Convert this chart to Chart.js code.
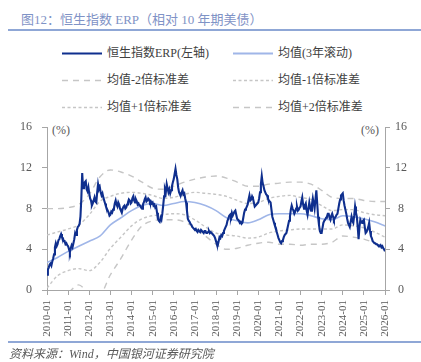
<!DOCTYPE html>
<html>
<head>
<meta charset="utf-8">
<script src="https://cdn.jsdelivr.net/npm/chart.js@4.4.1/dist/chart.umd.min.js"></script>
<style>
  body { margin: 0; width: 421px; height: 362px; background: #fff; position: relative; overflow: hidden;
         font-family: "Liberation Serif", "Noto Sans CJK SC", serif; }
  .title { position: absolute; left: 21px; top: 9px; font-size: 13px; color: #7f93c6; white-space: nowrap; }
  .rule { position: absolute; left: 8px; right: 0; height: 2px; background: #8fa7d6; }
  .item { position: absolute; height: 16px; line-height: 16px; font-size: 12px; color: #404040; white-space: nowrap; }
  .item svg { position: absolute; left: 0; top: 7px; }
  .item span { position: absolute; left: 45px; top: 0; }
  .unit { position: absolute; font-size: 12px; color: #595959; }
  .source { position: absolute; left: 9px; top: 344px; font-size: 12px; font-style: italic; color: #595959; white-space: nowrap; }
  #wrap { position: absolute; left: 0; top: 110px; width: 421px; height: 232px; }
</style>
</head>
<body>
<div class="title">图12：恒生指数 ERP（相对 10 年期美债）</div>
<div class="rule" style="top:29px"></div>
<div id="legend"></div>
<div class="unit" style="left:52px;top:123px">(%)</div>
<div class="unit" style="left:361px;top:123px">(%)</div>
<div id="wrap"><canvas id="erpChart" width="421" height="232"></canvas></div>
<div class="rule" style="top:341px"></div>
<div class="source">资料来源：Wind，中国银河证券研究院</div>

<script>
// x axis tick labels, one per year
const tickLabels = ['2010-01', '2011-01', '2012-01', '2013-01', '2014-01', '2015-01', '2016-01', '2017-01',
  '2018-01', '2019-01', '2020-01', '2021-01', '2022-01', '2023-01', '2024-01', '2025-01', '2026-01'];

// HSI ERP, twice a month from 2010-01 to 2026-01 (%)
const erpValues = [
  1.5, 2.0, 2.2, 2.5, 2.6, 2.4, 2.8, 3.1, 3.5, 4.2, 4.6, 4.3, 4.5, 4.9, 5.0, 5.3, 5.5, 5.2, 5.1, 4.8, 4.8, 4.5, 4.6, 4.4,           // 2010
  4.3, 4.0, 3.7, 4.1, 4.4, 4.2, 4.6, 5.0, 5.6, 5.4, 5.9, 6.2, 6.3, 6.5, 7.2, 9.0, 11.5, 10.0, 10.2, 10.6, 10.7, 9.9, 9.7, 10.1,    // 2011
  9.5, 9.0, 8.8, 8.3, 8.5, 8.8, 9.1, 8.7, 8.6, 9.6, 10.4, 9.9, 10.1, 9.6, 9.3, 9.5, 9.1, 8.8, 8.5, 8.2, 8.0, 7.8, 7.6, 7.3,        // 2012
  7.4, 7.7, 7.6, 7.9, 8.0, 8.5, 8.8, 8.4, 8.2, 8.6, 8.4, 8.0, 7.8, 7.6, 8.0, 8.2, 8.3, 8.0, 8.1, 8.4, 8.6, 8.9, 8.8, 8.5,          // 2013
  8.6, 9.0, 9.2, 8.8, 8.6, 8.9, 8.7, 8.4, 8.5, 8.3, 8.3, 8.1, 8.0, 8.4, 8.6, 8.9, 9.1, 8.7, 8.8, 9.0, 8.9, 8.6, 8.7, 8.5,          // 2014
  8.6, 8.3, 8.4, 8.1, 8.2, 7.6, 7.0, 6.8, 6.7, 7.1, 6.9, 7.5, 8.3, 9.2, 9.9, 9.6, 10.4, 10.0, 9.6, 9.9, 9.5, 9.8, 10.2, 10.6,      // 2015
  10.9, 11.4, 11.9, 11.3, 10.9, 10.1, 9.6, 9.4, 9.3, 9.6, 9.8, 9.4, 9.5, 9.0, 8.6, 7.8, 7.0, 6.8, 6.7, 6.5, 6.4, 6.2, 6.1, 6.0,   // 2016
  5.9, 6.0, 5.8, 5.7, 5.9, 5.8, 5.7, 5.9, 5.9, 5.7, 5.6, 5.8, 5.8, 5.6, 5.6, 5.7, 5.8, 5.6, 5.7, 5.6, 5.5, 5.4, 5.3, 5.1,          // 2017
  4.8, 4.5, 4.4, 4.8, 5.2, 5.1, 5.4, 5.3, 5.6, 5.8, 6.0, 6.2, 6.4, 6.8, 7.0, 7.3, 7.4, 7.2, 7.6, 7.3, 7.5, 7.7, 7.8, 7.4,          // 2018
  7.0, 6.9, 6.8, 6.6, 6.7, 6.5, 6.6, 7.1, 7.6, 7.9, 8.0, 8.2, 8.4, 8.9, 9.3, 8.8, 8.9, 9.2, 9.0, 8.6, 8.2, 8.3, 8.4, 8.5,          // 2019
  8.6, 9.0, 9.6, 10.4, 11.2, 10.5, 10.2, 9.8, 9.6, 9.4, 9.3, 9.0, 8.8, 8.7, 8.6, 7.9, 7.2, 6.9, 6.6, 6.3, 6.1, 5.7, 5.4, 5.1,      // 2020
  4.9, 4.7, 4.6, 4.8, 4.9, 5.2, 5.4, 5.5, 5.6, 6.0, 6.4, 6.8, 7.2, 7.9, 8.3, 8.0, 7.8, 7.5, 7.7, 8.0, 8.2, 7.8, 7.9, 8.1,          // 2021
  8.2, 8.7, 9.1, 8.4, 8.0, 8.3, 8.5, 7.8, 7.4, 8.0, 8.6, 8.1, 7.8, 8.4, 9.0, 8.5, 8.0, 8.9, 9.8, 8.5, 7.2, 6.4, 5.8, 5.6,          // 2022
  5.6, 6.1, 6.6, 6.8, 6.9, 7.1, 7.2, 7.5, 7.5, 7.1, 6.9, 7.3, 7.5, 7.2, 6.9, 7.1, 7.2, 7.4, 7.5, 8.0, 8.5, 8.9, 9.3, 9.4,          // 2023
  9.5, 8.8, 8.3, 7.9, 7.5, 7.0, 6.6, 6.4, 6.2, 6.7, 7.2, 6.8, 6.6, 7.3, 8.2, 7.6, 7.2, 6.2, 5.0, 6.2, 6.9, 6.7, 6.6, 6.8,          // 2024
  6.9, 6.2, 5.6, 5.7, 5.9, 6.2, 6.6, 5.8, 5.3, 5.1, 4.8, 4.7, 4.6, 4.6, 4.5, 4.5, 4.4, 4.4, 4.3, 4.4, 4.2, 4.3, 4.1, 4.0,          // 2025
  3.8                                                                                                                          // 2026
];

// 3-year rolling mean and bands, every half year from 2010-01 to 2026-01
const meanValues = [2.7, 3.2, 3.8, 4.3, 4.8, 5.3, 6.4, 7.1, 7.8, 8.3, 8.5, 8.3, 8.5, 8.7, 8.6, 8.3, 7.8,
  7.1, 6.8, 6.6, 6.9, 7.4, 7.5, 7.5, 7.5, 7.3, 7.0, 6.9, 7.3, 7.2, 7.0, 6.7, 6.3];
const plus2Values = [8.0, 8.0, 8.1, 8.4, 9.4, 11.1, 11.8, 11.6, 11.2, 10.6, 10.0, 9.9, 10.2, 10.6, 10.9, 11.1, 11.2,
  11.0, 10.6, 10.2, 10.2, 10.4, 10.5, 10.6, 10.6, 10.4, 9.8, 9.1, 9.0, 9.0, 8.8, 8.7, 8.7];
const plus1Values = [5.4, 5.7, 6.0, 6.4, 7.4, 8.7, 9.2, 9.5, 9.6, 9.5, 9.3, 9.0, 9.1, 9.4, 9.6, 9.5, 9.4,
  9.2, 8.8, 8.5, 8.6, 9.0, 9.2, 9.3, 9.1, 8.9, 8.3, 7.8, 7.9, 7.9, 7.6, 7.4, 7.3];
const minus1Values = [0.2, 1.4, 1.9, 2.1, 1.9, 2.7, 4.1, 5.2, 6.3, 7.0, 7.3, 7.4, 7.5, 7.4, 6.9, 6.2, 5.6,
  5.4, 5.3, 5.1, 5.2, 5.6, 5.8, 5.9, 6.0, 6.0, 6.0, 6.0, 6.4, 6.3, 6.1, 5.7, 5.2];
const minus2Values = [-2.6, -1.2, -0.3, 0.5, -0.3, -0.4, 1.5, 3.1, 4.9, 6.3, 6.8, 6.9, 6.9, 6.7, 6.1, 5.3, 4.5,
  4.0, 4.1, 4.4, 4.6, 4.7, 4.5, 4.5, 4.4, 4.5, 4.5, 4.7, 5.3, 5.2, 5.0, 4.6, 3.9];

const startYear = 2010;
const halfMonthly = vals => vals.map((v, i) => ({ x: startYear + i / 24, y: v }));
const halfYearly = vals => vals.map((v, i) => ({ x: startYear + i / 2, y: v }));

const gray = '#c6c6c6';
const longDash = [6, 5];
const shortDash = [3, 2.5];

function band(label, vals, dash) {
  return {
    label, data: halfYearly(vals), borderColor: gray, borderWidth: 1.4, borderDash: dash,
    cubicInterpolationMode: 'monotone', pointRadius: 0
  };
}

const datasets = [
  { label: '恒生指数ERP(左轴)', data: halfMonthly(erpValues), borderColor: '#0f2f8e', borderWidth: 2.1, pointRadius: 0, tension: 0 },
  { label: '均值(3年滚动)', data: halfYearly(meanValues), borderColor: '#a0b6e8', borderWidth: 1.6, pointRadius: 0, cubicInterpolationMode: 'monotone' },
  band('均值-2倍标准差', minus2Values, longDash),
  band('均值-1倍标准差', minus1Values, shortDash),
  band('均值+1倍标准差', plus1Values, shortDash),
  band('均值+2倍标准差', plus2Values, longDash)
];

// legend: two columns, three rows
const legendEl = document.getElementById('legend');
datasets.forEach((ds, i) => {
  const col = i % 2, row = Math.floor(i / 2);
  const item = document.createElement('div');
  item.className = 'item';
  item.style.left = (col ? 233 : 62) + 'px';
  item.style.top = (45 + row * 27) + 'px';
  const dash = ds.borderDash ? ds.borderDash.join(',') : 'none';
  item.innerHTML = '<svg width="40" height="3"><line x1="0" y1="1.5" x2="40" y2="1.5" stroke="' + ds.borderColor +
    '" stroke-width="' + (ds.borderDash ? 1.4 : 2) + '" stroke-dasharray="' + dash + '"/></svg><span>' + ds.label + '</span>';
  legendEl.appendChild(item);
});

const axisColor = '#a6a6a6';
const tickFont = { family: '"Liberation Serif", serif', size: 12 };

new Chart(document.getElementById('erpChart'), {
  type: 'line',
  data: { datasets },
  options: {
    responsive: false,
    animation: false,
    layout: { padding: { top: 13 } },
    plugins: { legend: { display: false }, tooltip: { enabled: false } },
    scales: {
      x: {
        type: 'linear', min: 2010, max: 2026,
        afterBuildTicks: s => { s.ticks = tickLabels.map((t, i) => ({ value: startYear + i })); },
        ticks: {
          autoSkip: false, maxRotation: 90, minRotation: 90, padding: 5, color: '#595959',
          font: { family: '"Liberation Serif", serif', size: 11 },
          callback: v => tickLabels[Math.round(v) - startYear]
        },
        grid: { drawOnChartArea: false, tickLength: 5, color: axisColor },
        border: { color: axisColor },
        afterFit: s => { s.height = 52; }
      },
      y: {
        position: 'left', min: 0, max: 16,
        ticks: { stepSize: 4, padding: 10, color: '#595959', font: tickFont },
        grid: { drawOnChartArea: false, tickLength: 5, color: axisColor },
        border: { color: axisColor },
        afterFit: s => { s.width = 47; }
      },
      y2: {
        position: 'right', min: 0, max: 16,
        ticks: { stepSize: 4, padding: 5, crossAlign: 'center', color: '#595959', font: tickFont },
        grid: { drawOnChartArea: false, tickLength: 5, color: axisColor },
        border: { color: axisColor },
        afterFit: s => { s.width = 36; }
      }
    }
  }
});
</script>
</body>
</html>
